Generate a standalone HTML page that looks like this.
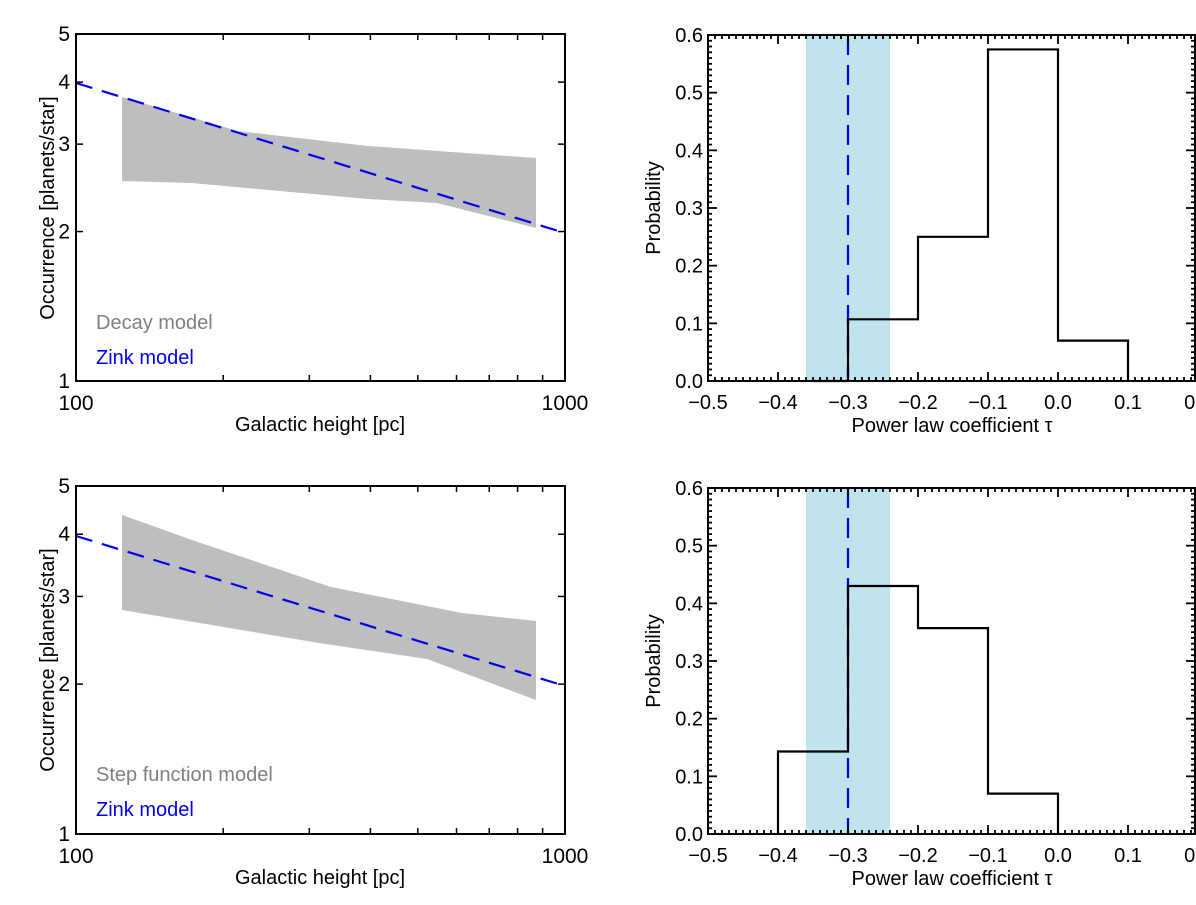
<!DOCTYPE html>
<html><head><meta charset="utf-8">
<style>
html,body{margin:0;padding:0;background:#fff;}
svg{display:block;font-family:"Liberation Sans",sans-serif;}
</style></head>
<body>
<svg id="s" width="1196" height="905" viewBox="0 0 1196 905" xmlns="http://www.w3.org/2000/svg">
<!-- top-left -->
<polygon points="122,97 238,131 368,146 536,158 536,228 437,203 368,199 192,183 122,181" fill="#bebebe"/>
<line x1="76" y1="83" x2="565" y2="233" stroke="#0000ee" stroke-width="2.2" stroke-dasharray="17,10"/>
<rect x="76" y="34" width="489" height="347" fill="none" stroke="#000" stroke-width="2"/>
<text x="96" y="329" font-size="20" fill="#808080">Decay model</text>
<text x="96" y="364" font-size="20" fill="#0000ee">Zink model</text>
<text x="320" y="431" font-size="20" text-anchor="middle">Galactic height [pc]</text>
<text transform="translate(54,208) rotate(-90)" font-size="20" text-anchor="middle">Occurrence [planets/star]</text>
<!-- bottom-left -->
<polygon points="122,515 192,540 331,587 462,613 536,621 536,700 427,659 319,643 122,610" fill="#bebebe"/>
<line x1="76" y1="536" x2="565" y2="686" stroke="#0000ee" stroke-width="2.2" stroke-dasharray="17,10"/>
<rect x="76" y="486" width="489" height="348" fill="none" stroke="#000" stroke-width="2"/>
<text x="96" y="781" font-size="20" fill="#808080">Step function model</text>
<text x="96" y="816" font-size="20" fill="#0000ee">Zink model</text>
<text x="320" y="884" font-size="20" text-anchor="middle">Galactic height [pc]</text>
<text transform="translate(54,660) rotate(-90)" font-size="20" text-anchor="middle">Occurrence [planets/star]</text>
<g id="g"></g>
</svg>
<script>
var g=document.getElementById('g'),h='';
function L(a,b,c,d,w,col){h+='<line x1="'+a+'" y1="'+b+'" x2="'+c+'" y2="'+d+'" stroke="'+(col||'#000')+'" stroke-width="'+(w||1.5)+'"/>';}
function T(x,y,s,anc,fs){h+='<text x="'+x+'" y="'+y+'" font-size="'+(fs||20)+'" text-anchor="'+(anc||'middle')+'">'+s+'</text>';}
[[34,381],[486,834]].forEach(function(b){
 var top=b[0],bot=b[1],x0=76,x1=565,pd=(bot-top)/Math.log10(5);
 [1,2,3,4,5].forEach(function(v){var y=bot-Math.log10(v)*pd;T(70,y+7,v,'end',21);
  if(v>1&&v<5){L(x0,y,x0+7,y);L(x1,y,x1-7,y);}});
 for(var n=2;n<10;n++){var x=x0+Math.log10(n)*(x1-x0);L(x,top,x,top+6);L(x,bot,x,bot-6);}
 T(x0,bot+29,'100','middle',21);T(x1,bot+29,'1000','middle',21);
});
function R(top,bot,bars){
 var x0=708,pxx=700,pyy=(bot-top)/0.6;
 function X(v){return x0+(v+0.5)*pxx;} function Y(v){return bot-v*pyy;}
 h+='<rect x="'+X(-0.36)+'" y="'+top+'" width="'+(X(-0.24)-X(-0.36))+'" height="'+(bot-top)+'" fill="#c0e4ee"/>';
 h+='<line x1="'+X(-0.3)+'" y1="'+top+'" x2="'+X(-0.3)+'" y2="'+bot+'" stroke="#0000ee" stroke-width="2.2" stroke-dasharray="20,10"/>';
 var p='M'+X(bars.start)+','+bot;
 bars.b.forEach(function(b){p+=' L'+X(b[0])+','+Y(b[2])+' L'+X(b[1])+','+Y(b[2]);});
 p+=' L'+X(bars.b[bars.b.length-1][1])+','+bot;
 h+='<path d="'+p+'" fill="none" stroke="#000" stroke-width="2.2"/>';
 h+='<rect x="'+x0+'" y="'+top+'" width="'+(1195-x0)+'" height="'+(bot-top)+'" fill="none" stroke="#000" stroke-width="2"/>';
 for(var i=0;i<=70;i++){var x=x0+i*7,m=(i%10==0)?9:4;if(x>1196)break;L(x,bot,x,bot-m,1.8);L(x,top,x,top+m,1.8);}
 for(var j=0;j<=60;j++){var y=bot-j*pyy/100,m=(j%10==0)?9:4;L(x0,y,x0+m,y,1.8);L(1195,y,1195-m,y,1.8);}
 for(var k=0;k<=6;k++){T(x0-5,Y(k/10)+7,(k/10).toFixed(1),'end',20);}
 ['\u22120.5','\u22120.4','\u22120.3','\u22120.2','\u22120.1','0.0','0.1','0.2'].forEach(function(s,i){T(X(-0.5+i*0.1),bot+28,s,'middle',20);});
 T(952,bot+51,'Power law coefficient \u03c4','middle',20);
 h+='<text transform="translate(660,'+((top+bot)/2)+') rotate(-90)" font-size="20" text-anchor="middle">Probability</text>';
}
R(35,381,{start:-0.35,b:[[-0.35,-0.3,0],[-0.3,-0.2,0.107],[-0.2,-0.1,0.25],[-0.1,0,0.575],[0,0.1,0.07]]});
R(488,834,{start:-0.4,b:[[-0.4,-0.3,0.143],[-0.3,-0.2,0.43],[-0.2,-0.1,0.357],[-0.1,0,0.07]]});
g.innerHTML=h;
</script>
</body></html>
